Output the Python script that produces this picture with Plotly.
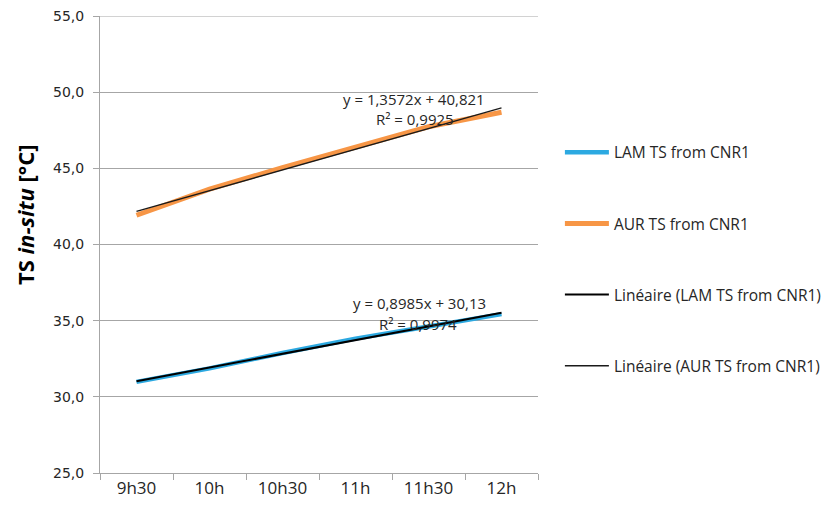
import plotly.graph_objects as go

categories = ["9h30", "10h", "10h30", "11h", "11h30", "12h"]
lam_ts = [30.98, 31.87, 32.88, 33.82, 34.62, 35.43]
aur_ts = [41.92, 43.63, 45.05, 46.37, 47.73, 48.68]
lam_trend_coef = [0.8985, 30.13]   # slope, intercept (Excel equation)
aur_trend_coef = [1.3572, 40.821]
lam_eq = ["y = 0,8985x + 30,13", "R² = 0,9974"]
aur_eq = ["y = 1,3572x + 40,821", "R² = 0,9925"]
y_ticks = [25, 30, 35, 40, 45, 50, 55]

idx = list(range(1, len(categories) + 1))
lam_trend = [lam_trend_coef[0] * i + lam_trend_coef[1] for i in idx]
aur_trend = [aur_trend_coef[0] * i + aur_trend_coef[1] for i in idx]

BLUE = "#2CA9E1"
ORANGE = "#F79646"
GRID = "#A6A6A6"
TXT = "#262626"
F = "Open Sans"

fig = go.Figure()
fig.add_trace(go.Scatter(x=categories, y=lam_ts, mode="lines", name="LAM TS from CNR1",
                         line=dict(color=BLUE, width=4.5), legendgroup="a"))
fig.add_trace(go.Scatter(x=categories, y=aur_ts, mode="lines", name="AUR TS from CNR1",
                         line=dict(color=ORANGE, width=5), legendgroup="b"))
fig.add_trace(go.Scatter(x=categories, y=lam_trend, mode="lines", name="Linéaire (LAM TS from CNR1)",
                         line=dict(color="#000000", width=2), legendgroup="c"))
fig.add_trace(go.Scatter(x=categories, y=aur_trend, mode="lines", name="Linéaire (AUR TS from CNR1)",
                         line=dict(color="#1a1a1a", width=1.3), legendgroup="d"))

def px_x(p):
    return (p - 100) / 438.0

def px_y(p):
    return 55 - (p - 16) / (457.0 / 30.0)

ann = []
for txt, cx, cy in [(aur_eq[0], 414, 99), (aur_eq[1], 415, 119),
                    (lam_eq[0], 419, 303), (lam_eq[1], 418, 324)]:
    ann.append(dict(text=txt, x=px_x(cx), y=px_y(cy), xref="paper", yref="y",
                    showarrow=False, xanchor="center", yanchor="middle",
                    font=dict(family=F, size=15, color=TXT)))
ann.append(dict(text="<b>TS <i>in-situ</i> [°C]</b>", x=px_x(25), y=px_y(215),
                xref="paper", yref="y", showarrow=False, textangle=-90,
                xanchor="center", yanchor="middle",
                font=dict(family=F, size=22, color="#000000")))

# page body adds an 8px margin, so the figure is 824x500 placed at (8, 8)
fig.update_layout(
    width=824, height=500, autosize=False,
    margin=dict(l=92, r=294, t=8, b=35, autoexpand=False),
    paper_bgcolor="white", plot_bgcolor="white",
    separators=", ",
    showlegend=True,
    legend=dict(x=1.05, xanchor="left", y=0.738, yanchor="top",
                font=dict(family=F, size=15.5, color=TXT),
                tracegroupgap=48, itemwidth=44, bgcolor="rgba(0,0,0,0)"),
    annotations=ann,
    shapes=[dict(type="line", xref="paper", x0=0, x1=1, yref="y",
                 y0=y_ticks[-1], y1=y_ticks[-1], layer="below",
                 line=dict(color=GRID, width=1))],
)
fig.update_xaxes(type="category", range=[-0.5, 5.5], tickson="boundaries", ticks="outside",
                 ticklen=6, automargin=False,
                 tickcolor=GRID, showline=True, linecolor=GRID, linewidth=1,
                 showgrid=False, tickfont=dict(family=F, size=17, color=TXT))
fig.update_yaxes(range=[25, 55], tickvals=y_ticks, tickformat=".1f", ticks="outside",
                 ticklen=6, automargin=False, tickcolor=GRID, showline=True, linecolor=GRID,
                 linewidth=1, showgrid=True, gridcolor=GRID, gridwidth=1, zeroline=False,
                 ticklabelstandoff=6, ticklabeloverflow="allow",
                 tickfont=dict(family="DejaVu Sans", size=14, color=TXT))

fig.write_html("out.html")
